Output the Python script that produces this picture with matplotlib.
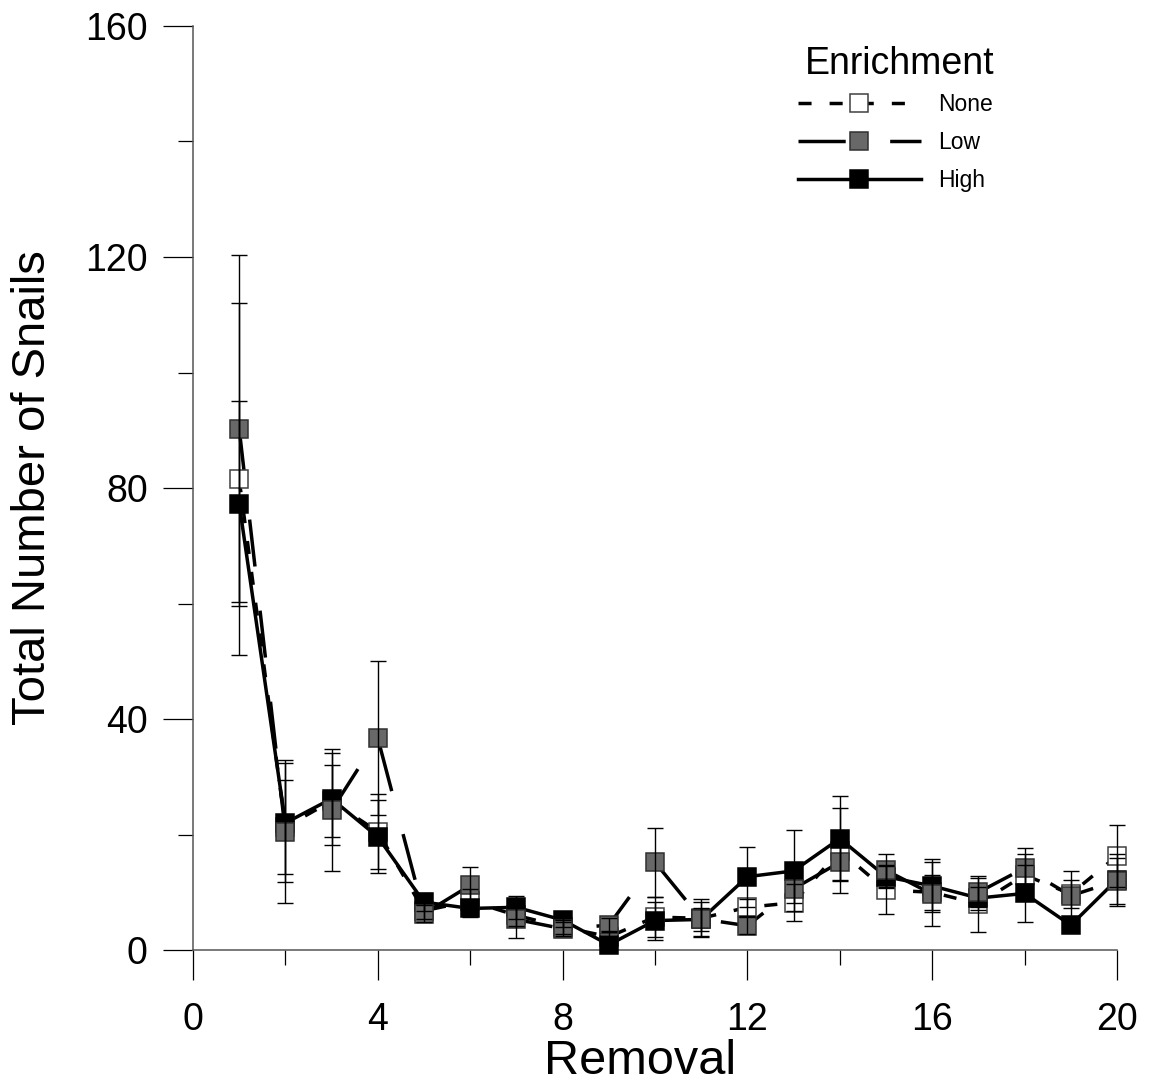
import numpy as np
import matplotlib
matplotlib.use('Agg')
import matplotlib.pyplot as plt
from matplotlib.lines import Line2D
from matplotlib.ticker import MultipleLocator

plt.rcParams['font.family'] = ['Liberation Sans', 'DejaVu Sans']
plt.rcParams['lines.scale_dashes'] = False

removal = np.arange(1, 21)

# mean snail counts and standard errors per enrichment level
none_mean = [81.5, 21.3, 25.8, 20.5, 6.8, 8.5, 6.0, 4.0, 2.3, 5.7,
             5.5, 7.4, 8.2, 17.2, 10.4, 10.0, 8.0, 13.0, 9.7, 16.3]
none_se = [30.5, 8.2, 6.2, 6.5, 1.5, 2.0, 1.8, 1.2, 1.0, 3.5,
           3.3, 1.5, 3.2, 7.4, 4.2, 3.0, 4.9, 3.7, 2.4, 5.3]

low_mean = [90.3, 20.5, 24.2, 36.7, 6.3, 11.2, 5.3, 3.7, 4.3, 15.2,
            5.4, 4.2, 10.6, 15.2, 13.8, 9.7, 10.0, 14.2, 9.4, 12.0]
low_se = [30.0, 12.4, 10.6, 13.4, 1.5, 3.1, 3.3, 1.2, 1.2, 6.0,
          3.0, 1.5, 2.5, 3.0, 2.8, 5.5, 2.5, 3.5, 4.3, 4.0]

high_mean = [77.3, 22.0, 26.2, 19.6, 8.3, 7.2, 7.4, 5.2, 0.9, 5.1,
             5.3, 12.7, 13.7, 19.3, 12.7, 11.1, 9.0, 9.8, 4.3, 12.2]
high_se = [17.7, 10.3, 8.0, 6.3, 1.5, 1.5, 2.0, 1.2, 0.8, 3.3,
           2.0, 5.2, 7.0, 7.3, 2.0, 4.6, 2.0, 5.0, 1.0, 4.5]

fig = plt.figure(figsize=(11.5, 10.87), dpi=100)
ax = fig.add_axes([0.1678, 0.126, 0.8035, 0.8501])

lw = 2.5
ms = 13.2
series = [
    # label, mean, se, dashes, face, edge, marker zorder
    ('None', none_mean, none_se, (9.4, 13.0), 'white', '#404040', 3),
    ('Low', low_mean, low_se, (34.0, 32.0), '#686868', '#303030', 5),
    ('High', high_mean, high_se, None, 'black', 'black', 4),
]

handles = []
for label, mean, se, dashes, face, edge, zm in series:
    if dashes is None:
        ax.plot(removal, mean, color='black', lw=lw, zorder=2, clip_on=False)
    else:
        ax.plot(removal, mean, color='black', lw=lw, dashes=dashes,
                zorder=2, clip_on=False)
    ax.plot(removal, mean, ls='none', marker='s', ms=ms, mfc=face,
            mec=edge, mew=1.1, zorder=zm, clip_on=False)
    ax.errorbar(removal, mean, yerr=se, fmt='none', ecolor='black',
                elinewidth=1.0, capsize=5.8, capthick=1.0, zorder=6,
                clip_on=False)
    h = Line2D([], [], color='black', lw=lw, marker='s', ms=ms,
               mfc=face, mec=edge, mew=1.1)
    if dashes is not None:
        h.set_dashes(dashes)
    handles.append(h)

ax.set_xlim(0, 20)
ax.set_ylim(0, 160)
ax.xaxis.set_major_locator(MultipleLocator(4))
ax.xaxis.set_minor_locator(MultipleLocator(2))
ax.yaxis.set_major_locator(MultipleLocator(40))
ax.yaxis.set_minor_locator(MultipleLocator(20))

for side in ['top', 'right']:
    ax.spines[side].set_visible(False)
for side in ['left', 'bottom']:
    ax.spines[side].set_color('#555555')
    ax.spines[side].set_linewidth(1.1)

ax.tick_params(which='major', direction='out', length=21.6, width=0.9,
               labelsize=27, color='black')
ax.tick_params(which='minor', direction='out', length=10.5, width=0.9,
               color='black')
ax.tick_params(axis='y', which='major', pad=11)
ax.tick_params(axis='x', which='major', pad=16)

ax.set_ylabel('Total Number of Snails', fontsize=34, va='center')
ax.yaxis.set_label_coords(-0.173, 0.5)
ax.set_xlabel('Removal', fontsize=35, va='center')
ax.xaxis.set_label_coords(0.484, -0.121)

# legend title set apart so the gap to the rows stays tight
fig.text(900 / 1150, 1 - 64 / 1087, 'Enrichment', fontsize=27,
         ha='center', va='center')
leg = ax.legend(handles, ['None', 'Low', 'High'], loc='upper left',
                bbox_to_anchor=(798 / 1150, 1 - 93 / 1087),
                bbox_transform=fig.transFigure,
                frameon=False, fontsize=16.5, borderpad=0,
                handlelength=5.35, handletextpad=0.78, labelspacing=0.66,
                borderaxespad=0)

fig.savefig('out.png', dpi=100)
